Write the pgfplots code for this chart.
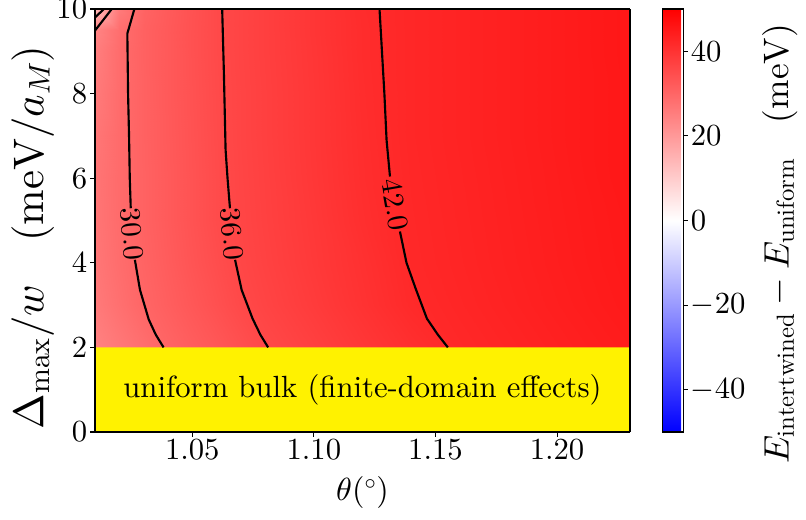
\documentclass[border=0pt]{standalone}
\usepackage{fontspec}
\setmainfont{lmroman10-regular.otf}
\usepackage{pgfplots}
\pgfplotsset{compat=1.18}
% scalable Computer Modern math fonts
\DeclareFontShape{OT1}{cmr}{m}{n}{<->cmr10}{}
\DeclareFontShape{OML}{cmm}{m}{it}{<->cmmi10}{}
\DeclareFontShape{OMS}{cmsy}{m}{n}{<->cmsy10}{}
\DeclareFontShape{OMX}{cmex}{m}{n}{<->cmex10}{}

\begin{document}
\begin{tikzpicture}
\useasboundingbox (-71.25pt,-65.25pt) rectangle (533.25pt,324pt);
\begin{axis}[
  at={(0pt,0pt)}, anchor=south west,
  view={0}{90},
  width=401.25pt, height=317.25pt, scale only axis,
  xmin=1.01, xmax=1.23, ymin=0, ymax=10, zmin=0, zmax=50,
  enlargelimits=false,
  axis on top,
  xtick={1.05,1.10,1.15,1.20},
  ytick={0,2,4,6,8,10},
  ztick=\empty,
  xticklabel style={/pgf/number format/.cd, fixed, fixed zerofill, precision=2},
  tick align=outside,
  xtick pos=left, ytick pos=left,
  major tick length=3.7pt,
  tick style={black, line width=0.8pt},
  axis line style={line width=0.8pt},
  tick label style={font=\fontsize{23}{27}\selectfont, inner sep=2pt},
  xlabel={$\theta(^\circ)$},
  xlabel style={font=\fontsize{24}{28}\selectfont, at={(axis description cs:0.5,-0.1631)},
    anchor=base, inner sep=0pt},
  ylabel={$\Delta_{\max}/w\quad(\mathrm{meV}/a_M)$},
  ylabel style={font=\fontsize{32}{37}\selectfont, at={(axis description cs:-0.1570,0.46)},
    anchor=north, inner sep=0pt},
  colormap={bwr}{rgb255=(0,0,255) rgb255=(255,255,255) rgb255=(255,0,0)},
  point meta min=-50, point meta max=50,
  colorbar,
  colorbar style={
    at={(parent axis.north east)}, anchor=north west, xshift=15.5pt,
    width=15.75pt,
    ytick={-40,-20,0,20,40},
    ytick pos=right, yticklabel pos=right,
    tick align=outside,
    major tick length=3.7pt,
    tick style={black, line width=0.8pt},
    axis line style={line width=0.8pt},
    yticklabel style={font=\fontsize{23}{27}\selectfont, inner sep=2pt},
    ylabel={$E_{\mathrm{intertwined}} - E_{\mathrm{uniform}}\quad(\mathrm{meV})$},
    ylabel style={font=\fontsize{26.5}{31}\selectfont, at={(axis description cs:4.75,0.445)},
      anchor=north, inner sep=0pt},
  },
]

% energy difference (meV) on the (theta, Delta_max/w) grid
\addplot3[surf, shader=interp, mesh/cols=15] coordinates {
(1.01,2,24.6) (1.02,2,26.5) (1.03,2,28.4) (1.04,2,30.3) (1.05,2,31.7) (1.06,2,33.0) (1.07,2,34.4) (1.08,2,35.8) (1.10,2,37.5) (1.12,2,39.2) (1.14,2,40.8) (1.16,2,42.2) (1.18,2,42.9) (1.20,2,43.6) (1.23,2,44.6)
(1.01,3,26.1) (1.02,3,28.1) (1.03,3,30.1) (1.04,3,31.5) (1.05,3,32.9) (1.06,3,34.3) (1.07,3,35.7) (1.08,3,36.7) (1.10,3,38.4) (1.12,3,40.1) (1.14,3,41.8) (1.16,3,42.6) (1.18,3,43.3) (1.20,3,44.0) (1.23,3,45.0)
(1.01,4,26.7) (1.02,4,28.7) (1.03,4,30.5) (1.04,4,32.0) (1.05,4,33.5) (1.06,4,34.9) (1.07,4,36.2) (1.08,4,37.1) (1.10,4,38.8) (1.12,4,40.4) (1.14,4,42.1) (1.16,4,42.8) (1.18,4,43.5) (1.20,4,44.2) (1.23,4,45.2)
(1.01,5,27.0) (1.02,5,29.0) (1.03,5,30.8) (1.04,5,32.3) (1.05,5,33.8) (1.06,5,35.3) (1.07,5,36.4) (1.08,5,37.3) (1.10,5,39.0) (1.12,5,40.8) (1.14,5,42.2) (1.16,5,42.9) (1.18,5,43.6) (1.20,5,44.3) (1.23,5,45.3)
(1.01,6,27.1) (1.02,6,29.1) (1.03,6,30.8) (1.04,6,32.3) (1.05,6,33.8) (1.06,6,35.3) (1.07,6,36.5) (1.08,6,37.4) (1.10,6,39.2) (1.12,6,41.0) (1.14,6,42.3) (1.16,6,43.0) (1.18,6,43.7) (1.20,6,44.4) (1.23,6,45.5)
(1.01,7,26.8) (1.02,7,29.1) (1.03,7,30.9) (1.04,7,32.4) (1.05,7,33.9) (1.06,7,35.4) (1.07,7,36.6) (1.08,7,37.5) (1.10,7,39.3) (1.12,7,41.1) (1.14,7,42.4) (1.16,7,43.1) (1.18,7,43.8) (1.20,7,44.5) (1.23,7,45.5)
(1.01,8,26.0) (1.02,8,28.9) (1.03,8,30.9) (1.04,8,32.5) (1.05,8,34.0) (1.06,8,35.5) (1.07,8,36.6) (1.08,8,37.5) (1.10,8,39.3) (1.12,8,41.2) (1.14,8,42.4) (1.16,8,43.1) (1.18,8,43.8) (1.20,8,44.5) (1.23,8,45.5)
(1.01,9,25.3) (1.02,9,28.8) (1.03,9,31.0) (1.04,9,32.5) (1.05,9,34.1) (1.06,9,35.6) (1.07,9,36.7) (1.08,9,37.6) (1.10,9,39.4) (1.12,9,41.3) (1.14,9,42.4) (1.16,9,43.1) (1.18,9,43.8) (1.20,9,44.5) (1.23,9,45.6)
(1.01,9.5,24.1) (1.02,9.5,28.4) (1.03,9.5,31.0) (1.04,9.5,32.5) (1.05,9.5,34.1) (1.06,9.5,35.6) (1.07,9.5,36.7) (1.08,9.5,37.6) (1.10,9.5,39.5) (1.12,9.5,41.3) (1.14,9.5,42.4) (1.16,9.5,43.1) (1.18,9.5,43.8) (1.20,9.5,44.5) (1.23,9.5,45.6)
(1.01,10,14.0) (1.02,10,26.0) (1.03,10,30.6) (1.04,10,32.3) (1.05,10,34.0) (1.06,10,35.6) (1.07,10,36.7) (1.08,10,37.6) (1.10,10,39.5) (1.12,10,41.4) (1.14,10,42.4) (1.16,10,43.1) (1.18,10,43.8) (1.20,10,44.5) (1.23,10,45.6)
};

% region where the bulk stays uniform
\addplot3[fill=yellow, draw=none] coordinates {(1.01,0,0) (1.23,0,0) (1.23,2,0) (1.01,2,0) (1.01,0,0)};
\node[font=\fontsize{23}{27}\selectfont] at (axis cs:1.12,1,0) {uniform bulk (finite-domain effects)};

% contour lines, broken where their labels sit
\begin{scope}[every path/.append style={line join=round}]
\addplot3[black, line width=1.6pt] coordinates {(1.01,9.80,0) (1.0137,10,0)};
\addplot3[black, line width=1.6pt] coordinates {(1.01,9.49,0) (1.0169,10,0)};
\addplot3[black, line width=1.6pt] coordinates {(1.0262,10,0) (1.0233,9.42,0) (1.0236,8,0) (1.0240,7,0) (1.0243,6,0) (1.0247,5.29,0)};
\addplot3[black, line width=1.6pt] coordinates {(1.0264,4.07,0) (1.0285,3.36,0) (1.0321,2.66,0) (1.0350,2.3,0) (1.0382,2.0,0)};
\addplot3[black, line width=1.6pt] coordinates {(1.0623,10,0) (1.0630,8.5,0) (1.0637,6.67,0) (1.0645,6.0,0) (1.0655,5.29,0)};
\addplot3[black, line width=1.6pt] coordinates {(1.0676,4.07,0) (1.0703,3.36,0) (1.0748,2.68,0) (1.0780,2.3,0) (1.0812,2.0,0)};
\addplot3[black, line width=1.6pt] coordinates {(1.1270,10,0) (1.1290,8,0) (1.1299,6.9,0) (1.1313,6.04,0)};
\addplot3[black, line width=1.6pt] coordinates {(1.1354,4.74,0) (1.1381,4.0,0) (1.1418,3.4,0) (1.1465,2.68,0) (1.1510,2.3,0) (1.1551,2.0,0)};
\end{scope}
\node[rotate=-85, inner sep=0pt, font=\fontsize{22}{26}\selectfont] at (axis cs:1.0253,4.68,0) {30.0};
\node[rotate=-85, inner sep=0pt, font=\fontsize{22}{26}\selectfont] at (axis cs:1.0664,4.68,0) {36.0};
\node[rotate=-80, inner sep=0pt, font=\fontsize{22}{26}\selectfont] at (axis cs:1.1334,5.37,0) {42.0};
\end{axis}
\end{tikzpicture}
\end{document}
